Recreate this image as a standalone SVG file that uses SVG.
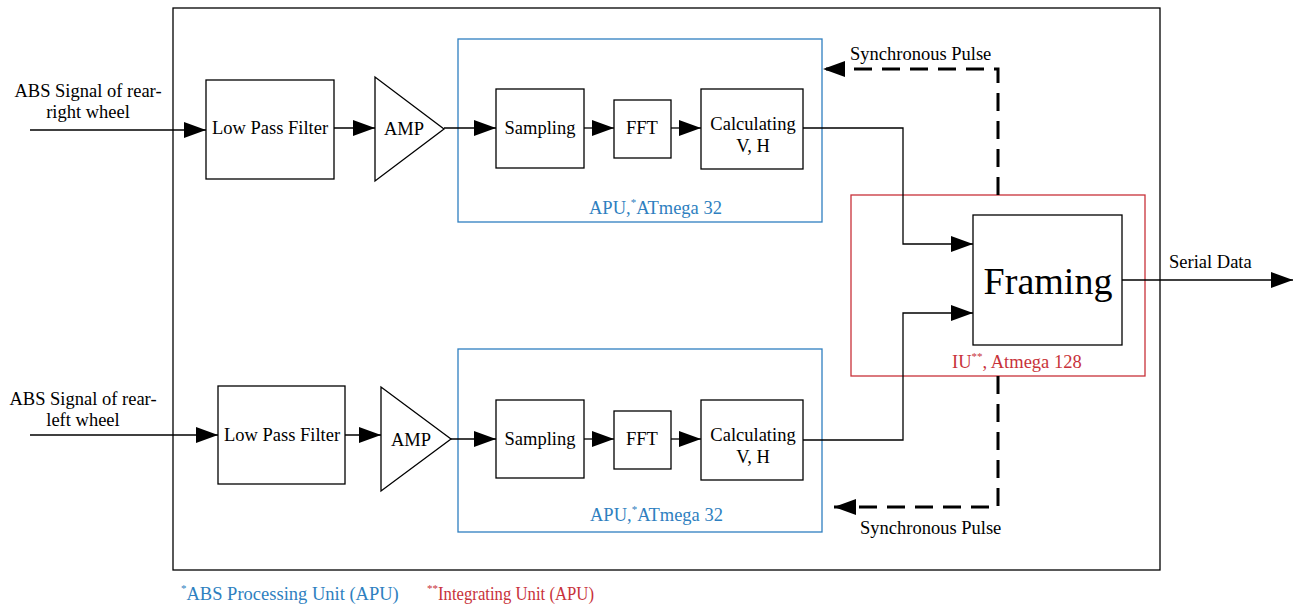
<svg xmlns="http://www.w3.org/2000/svg" width="1296" height="606" viewBox="0 0 1296 606">
<defs>
<marker id="arr" viewBox="0 0 22 16" refX="22" refY="8" markerWidth="22" markerHeight="16" markerUnits="userSpaceOnUse" orient="auto"><path d="M0,0 L22,8 L0,16 Z" fill="#000"/></marker>
</defs>
<style>
text{font-family:"Liberation Serif","Times New Roman",serif;font-size:18.5px;fill:#000}
.box{fill:#fff;stroke:#000;stroke-width:1.3}
.line{fill:none;stroke:#000;stroke-width:1.3}
.dash{fill:none;stroke:#000;stroke-width:3;stroke-dasharray:18 10}
.blue{fill:none;stroke:#2e7fc0;stroke-width:1.3}
.red{fill:none;stroke:#c8323a;stroke-width:1.3}
.bt{fill:#2e7fc0}
.rt{fill:#c8323a}
.c{text-anchor:middle}
.sup{font-size:11px}
</style>
<rect width="1296" height="606" fill="#fff"/>
<g id="outer"><rect x="173" y="8" width="987" height="562" fill="none" stroke="#000" stroke-width="1.3"/></g>
<g id="apu1"><rect class="blue" x="458" y="39" width="364" height="183"/><text class="bt" x="589" y="214">APU,<tspan class="sup" dy="-8">*</tspan><tspan dy="8">ATmega 32</tspan></text></g>
<g id="apu2"><rect class="blue" x="458" y="349" width="364" height="183"/><text class="bt" x="590" y="521">APU,<tspan class="sup" dy="-8">*</tspan><tspan dy="8">ATmega 32</tspan></text></g>
<g id="iu"><rect class="red" x="851" y="195" width="294" height="181"/><text class="rt" x="952" y="368">IU<tspan class="sup" dy="-8">**</tspan><tspan dy="8">,   Atmega 128</tspan></text></g>
<g id="in1"><text class="c" x="88" y="97">ABS Signal of rear-</text><text class="c" x="88" y="118">right wheel</text></g>
<g id="in2"><text class="c" x="83" y="405">ABS Signal of rear-</text><text class="c" x="83" y="426">left wheel</text></g>
<g id="lpf1"><rect class="box" x="206" y="80" width="128" height="99"/><text class="c" x="270" y="134">Low Pass Filter</text></g>
<g id="amp1"><path class="box" d="M375,77 L375,181 L444,129 Z"/><text x="384" y="135">AMP</text></g>
<g id="samp1"><rect class="box" x="496" y="89" width="88" height="79"/><text class="c" x="540" y="134">Sampling</text></g>
<g id="fft1"><rect class="box" x="614" y="100" width="57" height="58"/><text class="c" x="642" y="134">FFT</text></g>
<g id="calc1"><rect class="box" x="701" y="89" width="102" height="80"/><text class="c" x="753" y="130">Calculating</text><text class="c" x="753" y="152">V, H</text></g>
<g id="lpf2"><rect class="box" x="218" y="386" width="127" height="98"/><text class="c" x="282" y="441">Low Pass Filter</text></g>
<g id="amp2"><path class="box" d="M381,387 L381,491 L451,439 Z"/><text x="391" y="446">AMP</text></g>
<g id="samp2"><rect class="box" x="496" y="400" width="88" height="78"/><text class="c" x="540" y="445">Sampling</text></g>
<g id="fft2"><rect class="box" x="614" y="411" width="57" height="58"/><text class="c" x="642" y="445">FFT</text></g>
<g id="calc2"><rect class="box" x="701" y="400" width="102" height="80"/><text class="c" x="753" y="441">Calculating</text><text class="c" x="753" y="463">V, H</text></g>
<g id="framing"><rect class="box" x="973" y="215" width="149" height="130"/><text class="c" x="1048" y="294" style="font-size:38px">Framing</text></g>
<g id="connectors">
<path class="line" d="M30,130 L206,130" marker-end="url(#arr)"/>
<path class="line" d="M334,128 L375,128" marker-end="url(#arr)"/>
<path class="line" d="M444,128 L496,128" marker-end="url(#arr)"/>
<path class="line" d="M584,128 L614,128" marker-end="url(#arr)"/>
<path class="line" d="M671,128 L701,128" marker-end="url(#arr)"/>
<path class="line" d="M30,435 L218,435" marker-end="url(#arr)"/>
<path class="line" d="M345,435 L381,435" marker-end="url(#arr)"/>
<path class="line" d="M451,439 L496,439" marker-end="url(#arr)"/>
<path class="line" d="M584,439 L614,439" marker-end="url(#arr)"/>
<path class="line" d="M671,439 L701,439" marker-end="url(#arr)"/>
<path class="line" d="M803,128 L903,128 L903,244 L973,244" marker-end="url(#arr)"/>
<path class="line" d="M803,440 L903,440 L903,313 L973,313" marker-end="url(#arr)"/>
<path class="line" d="M1122,280 L1293,280" marker-end="url(#arr)"/>
<path class="dash" d="M998,195 L998,69 L823,69" marker-end="url(#arr)"/>
<path class="dash" d="M998,376 L998,507 L834,507" marker-end="url(#arr)"/>
<text x="850" y="60">Synchronous Pulse</text>
<text x="860" y="534">Synchronous Pulse</text>
<text x="1169" y="268">Serial Data</text>
</g>
<g id="notes">
<text class="bt" x="181" y="600"><tspan class="sup" dy="-8">*</tspan><tspan dy="8">ABS Processing Unit (APU)</tspan></text>
<text class="rt" x="427" y="600"><tspan class="sup" dy="-8">**</tspan><tspan dy="8" textLength="156" lengthAdjust="spacingAndGlyphs">Integrating Unit (APU)</tspan></text>
</g>
</svg>
